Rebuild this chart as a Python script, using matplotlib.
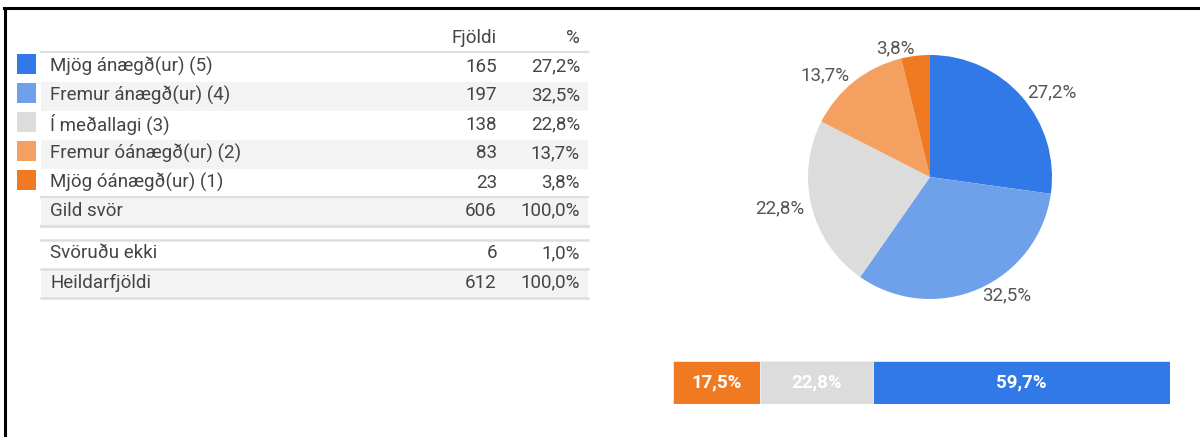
import matplotlib
matplotlib.use("Agg")
import matplotlib.pyplot as plt
from matplotlib.patches import Rectangle
from matplotlib.lines import Line2D

plt.rcParams['font.family'] = ['Roboto', 'DejaVu Sans']

# ---- data ----
categories = ["Mjög ánægð(ur) (5)", "Fremur ánægð(ur) (4)", "Í meðallagi (3)",
              "Fremur óánægð(ur) (2)", "Mjög óánægð(ur) (1)"]
counts = [165, 197, 138, 83, 23]
percents = [27.2, 32.5, 22.8, 13.7, 3.8]
colors = ["#3079e6", "#6fa1eb", "#dcdcdc", "#f4a061", "#f07a22"]
valid_label, valid_count, valid_pct = "Gild svör", 606, 100.0
missing_label, missing_count, missing_pct = "Svöruðu ekki", 6, 1.0
total_label, total_count, total_pct = "Heildarfjöldi", 612, 100.0
col_headers = ["Fjöldi", "%"]
bar_values = [17.5, 22.8, 59.7]
bar_colors = ["#f07a22", "#dcdcdc", "#3079e6"]

def fmt(p):
    return f"{p:.1f}%".replace(".", ",")

W, H = 1200, 437
fig = plt.figure(figsize=(W / 100, H / 100), dpi=100)
fig.patch.set_facecolor("white")

# ---- table axes in pixel coordinates ----
ax = fig.add_axes([0, 0, 1, 1])
ax.set_xlim(0, W)
ax.set_ylim(H, 0)
ax.axis("off")

txt = "#444444"
fs = 13.5
line_c = "#dedede"
shade = "#f3f3f3"
x0, x1 = 41, 588
x_count, x_pct = 497, 580
row_h = 29

ax.text(x_count, 38, col_headers[0], ha="right", va="center", fontsize=fs, color=txt)
ax.text(x_pct, 38, col_headers[1], ha="right", va="center", fontsize=fs, color=txt)
ax.add_line(Line2D([x0, x1], [52, 52], color=line_c, lw=1.5))

top = 53
for i, (c, n, p, col) in enumerate(zip(categories, counts, percents, colors)):
    y = top + i * row_h
    if i % 2 == 1:
        ax.add_patch(Rectangle((x0, y), x1 - x0, row_h, color=shade, lw=0))
    ax.add_patch(Rectangle((17, y + 1), 19, 20, color=col, lw=0))
    yc = y + row_h / 2 - 1
    ax.text(50, yc, c, ha="left", va="center", fontsize=fs, color=txt)
    ax.text(x_count, yc, str(n), ha="right", va="center", fontsize=fs, color=txt)
    ax.text(x_pct, yc, fmt(p), ha="right", va="center", fontsize=fs, color=txt)

def summary_row(y, label, n, p, shaded):
    if shaded:
        ax.add_patch(Rectangle((x0, y), x1 - x0, row_h, color=shade, lw=0))
    yc = y + row_h / 2 - 1
    ax.text(50, yc, label, ha="left", va="center", fontsize=fs, color=txt)
    ax.text(x_count, yc, str(n), ha="right", va="center", fontsize=fs, color=txt)
    ax.text(x_pct, yc, fmt(p), ha="right", va="center", fontsize=fs, color=txt)

y_valid = top + len(categories) * row_h - 1
summary_row(y_valid, valid_label, valid_count, valid_pct, True)
ax.add_line(Line2D([x0, x1], [y_valid, y_valid], color=line_c, lw=1.5))
ax.add_line(Line2D([x0, x1], [y_valid + row_h, y_valid + row_h], color=line_c, lw=2.2))

y_miss = 240
summary_row(y_miss, missing_label, missing_count, missing_pct, False)
summary_row(y_miss + row_h, total_label, total_count, total_pct, True)
for yy in (y_miss, y_miss + row_h, y_miss + 2 * row_h):
    ax.add_line(Line2D([x0, x1], [yy, yy], color=line_c, lw=1.8))

# frame lines (top and left)
ax.add_line(Line2D([4, W], [8, 8], color="black", lw=2.2))
ax.add_line(Line2D([5, 5], [8, H], color="black", lw=2.2))

# ---- pie ----
cx, cy, r = 930, 177, 122
pax = fig.add_axes([(cx - r) / W, 1 - (cy + r) / H, 2 * r / W, 2 * r / H])
wedges, texts = pax.pie(percents, colors=colors, startangle=90, counterclock=False,
                        labels=[fmt(p) for p in percents], labeldistance=1.06,
                        textprops=dict(fontsize=13.5, color="#555555"),
                        wedgeprops=dict(linewidth=0))
pax.set_xlim(-1, 1)
pax.set_ylim(-1, 1)
pax.set_aspect("equal")
pax.axis("off")

# ---- stacked bar ----
bx0, bx1, by0, by1 = 673, 1170, 361, 404
bax = fig.add_axes([bx0 / W, 1 - by1 / H, (bx1 - bx0) / W, (by1 - by0) / H])
left = 0
for v, col in zip(bar_values, bar_colors):
    bax.barh(0, v, left=left, height=1, color=col, edgecolor="#eeeeee", linewidth=0.6)
    bax.text(left + v / 2, 0, fmt(v), ha="center", va="center", color="white",
             fontsize=13.5, fontweight="bold")
    left += v
bax.set_xlim(0, sum(bar_values))
bax.set_ylim(-0.5, 0.5)
bax.axis("off")

fig.savefig("out.png", dpi=100, facecolor="white")
